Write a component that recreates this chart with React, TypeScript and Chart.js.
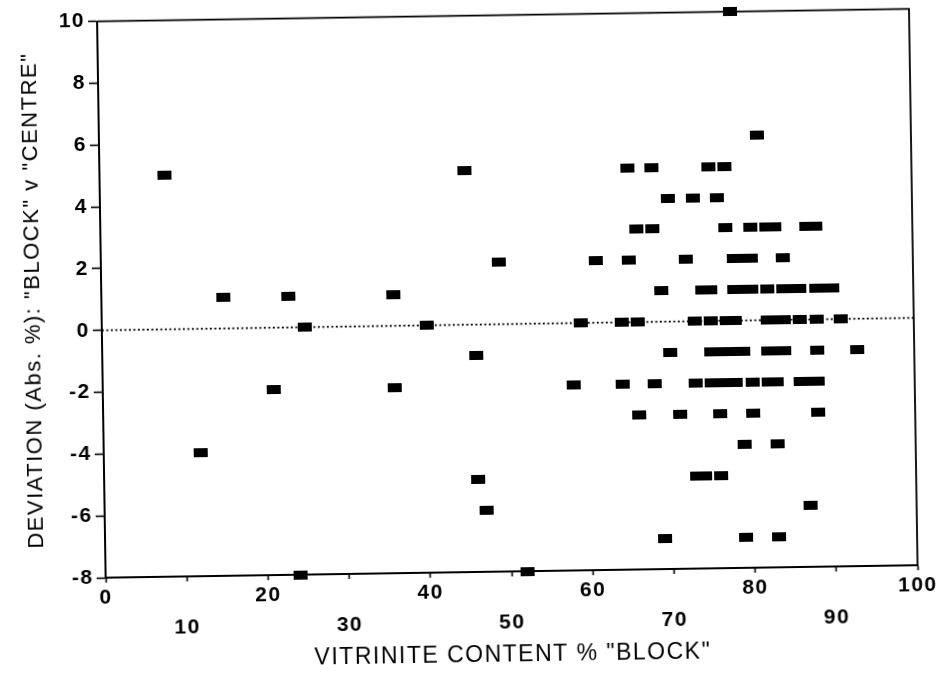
import { useEffect, useRef } from 'react';
import { Chart, registerables } from 'chart.js';

Chart.register(...registerables);

// Deviation rows (Abs. %) and the "BLOCK" vitrinite contents recorded at each row.
const deviationLevels = [10, 6, 5, 4, 3, 2, 1, 0, -1, -2, -3, -4, -5, -6, -7, -8];
const vitriniteByLevel = [
  [78],
  [81],
  [8, 45, 65, 68, 75, 77],
  [70, 73, 76],
  [66, 68, 77, 80, 82, 83, 87, 88],
  [49, 61, 65, 72, 78, 79, 80, 84],
  [15, 23, 36, 69, 74, 75, 78, 79, 80, 82, 84, 85, 86, 88, 89, 90],
  [25, 40, 59, 64, 66, 73, 75, 77, 78, 82, 83, 84, 86, 88, 91],
  [46, 70, 75, 76, 77, 78, 79, 82, 83, 84, 88, 93],
  [21, 36, 58, 64, 68, 73, 75, 76, 77, 78, 80, 82, 83, 86, 87, 88],
  [66, 71, 76, 80, 88],
  [12, 79, 83],
  [46, 73, 74, 76],
  [47, 87],
  [69, 79, 83],
  [24, 52],
];

// Zero-deviation reference line.
const zeroLineX = [0, 100];
const zeroLineY = [0, 0];

// Axis ranges and tick steps.
const xRange = [0, 100];
const xStep = 10;
const yRange = [-8, 10];
const yStep = 2;

const FONT = "'Liberation Sans', Arial, Helvetica, sans-serif";

const framePlugin = {
  id: 'frame',
  beforeDatasetsDraw(chart: any) {
    const { ctx, chartArea } = chart;
    ctx.save();
    ctx.strokeStyle = '#000';
    ctx.lineWidth = 1.8;
    ctx.beginPath();
    ctx.moveTo(chartArea.left, chartArea.top);
    ctx.lineTo(chartArea.right, chartArea.top);
    ctx.lineTo(chartArea.right, chartArea.bottom);
    ctx.stroke();
    ctx.restore();
  },
};

const spacingPlugin = {
  id: 'textSpacing',
  beforeDraw(chart: any) {
    chart.ctx.letterSpacing = '1.5px';
  },
  afterDraw(chart: any) {
    chart.ctx.letterSpacing = '0px';
  },
};

export default function App() {
  const canvasRef = useRef<HTMLCanvasElement | null>(null);

  useEffect(() => {
    const canvas = canvasRef.current;
    if (!canvas) return;

    // Filled rectangular marker used for every sample.
    const marker = document.createElement('canvas');
    marker.width = 14;
    marker.height = 9;
    const mctx = marker.getContext('2d');
    if (mctx) {
      mctx.fillStyle = '#000';
      mctx.fillRect(0, 0, 14, 9);
    }

    const samples: { x: number; y: number }[] = [];
    deviationLevels.forEach((dev, i) => {
      vitriniteByLevel[i].forEach((v) => samples.push({ x: v, y: dev }));
    });
    const zeroLine = zeroLineX.map((x, i) => ({ x, y: zeroLineY[i] }));

    const tickFont = { family: FONT, size: 21, weight: 'bold' as const };

    const chart = new Chart(canvas, {
      type: 'scatter',
      data: {
        datasets: [
          {
            data: samples,
            pointStyle: marker,
            pointRadius: 5,
            clip: false,
          } as any,
          {
            data: zeroLine,
            showLine: true,
            borderColor: '#000',
            borderWidth: 1.7,
            borderDash: [2, 2.5],
            pointRadius: 0,
            fill: false,
          },
        ],
      },
      options: {
        animation: false,
        responsive: false,
        events: [],
        layout: { padding: { left: 0, right: 32, top: 14.5, bottom: 0 } },
        plugins: {
          legend: { display: false },
          tooltip: { enabled: false },
        },
        scales: {
          x: {
            type: 'linear',
            position: 'bottom',
            min: xRange[0],
            max: xRange[1],
            afterFit: (s: any) => {
              s.height = 104;
            },
            ticks: {
              stepSize: xStep,
              autoSkip: false,
              maxRotation: 0,
              padding: 0,
              color: '#000',
              font: { ...tickFont, lineHeight: 1.47 },
              callback: (value: any) => {
                const v = Number(value);
                return v % 20 === 0 ? String(v) : ['', String(v)];
              },
            },
            grid: {
              display: true,
              drawOnChartArea: false,
              drawTicks: true,
              tickLength: 5,
              tickColor: '#000',
              tickWidth: 1.6,
            },
            border: { display: true, color: '#000', width: 2 },
            title: {
              display: true,
              text: 'VITRINITE CONTENT % "BLOCK"',
              color: '#000',
              font: { family: FONT, size: 23 },
              padding: { top: 0, bottom: 7 },
            },
          },
          y: {
            type: 'linear',
            min: yRange[0],
            max: yRange[1],
            afterFit: (s: any) => {
              s.width = 102;
            },
            ticks: {
              stepSize: yStep,
              padding: 3,
              color: '#000',
              font: tickFont,
            },
            grid: {
              display: true,
              drawOnChartArea: false,
              drawTicks: true,
              tickLength: 9,
              tickColor: '#000',
              tickWidth: 1.6,
            },
            border: { display: true, color: '#000', width: 2 },
            title: {
              display: true,
              text: 'DEVIATION (Abs. %): "BLOCK" v "CENTRE"',
              color: '#000',
              font: { family: FONT, size: 22 },
              padding: { top: 20.5, bottom: 0 },
            },
          },
        },
      },
      plugins: [framePlugin, spacingPlugin],
    });

    return () => chart.destroy();
  }, []);

  return (
    <div
      style={{
        position: 'absolute',
        left: 0,
        top: 0,
        width: 946,
        height: 676,
        background: '#fff',
        overflow: 'hidden',
      }}
    >
      <canvas
        ref={canvasRef}
        width={946}
        height={676}
        style={{
          display: 'block',
          width: 946,
          height: 676,
          transform: 'rotate(-0.88deg)',
          transformOrigin: '473px 338px',
        }}
      />
    </div>
  );
}
